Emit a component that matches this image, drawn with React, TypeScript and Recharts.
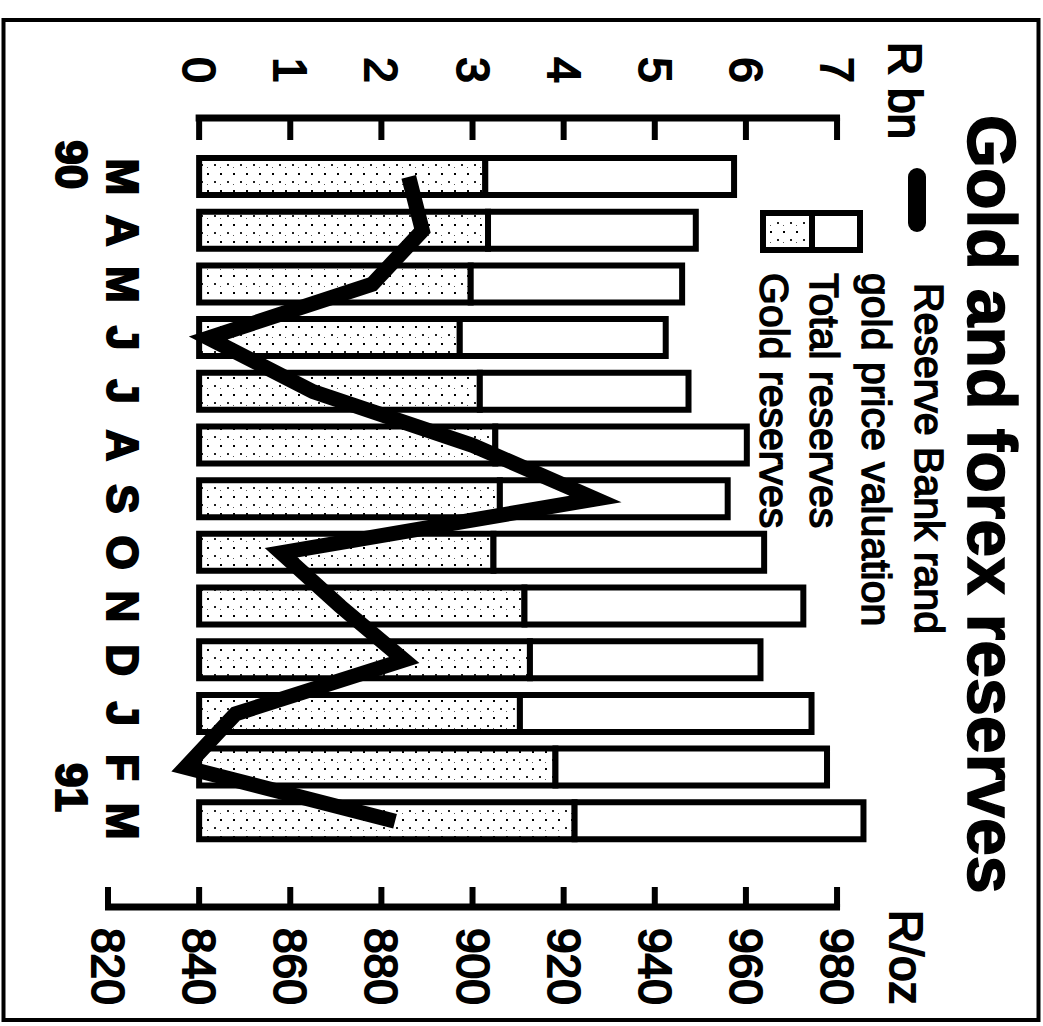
import React from "react";
import { ComposedChart, Bar, Line, XAxis, YAxis, Legend } from "recharts";

// months Mar 1990 .. Mar 1991
const months = ["M", "A", "M", "J", "J", "A", "S", "O", "N", "D", "J", "F", "M"];
const years = ["90", "", "", "", "", "", "", "", "", "", "", "91", ""];
// R bn
const totalReserves = [5.87, 5.45, 5.3, 5.12, 5.37, 6.01, 5.8, 6.2, 6.63, 6.16, 6.72, 6.89, 7.29];
const goldReserves = [3.14, 3.17, 2.98, 2.86, 3.08, 3.25, 3.3, 3.23, 3.57, 3.63, 3.52, 3.91, 4.12];
// R/oz
const goldPrice = [886, 889, 878, 842, 865, 900, 927, 858, 871, 885, 848, 837, 883];

const rbnTicks = [0, 1, 2, 3, 4, 5, 6, 7];
const rozTicks = [820, 840, 860, 880, 900, 920, 940, 960, 980];
const legendLabels = ["Reserve Bank rand", "gold price valuation", "Total reserves", "Gold reserves"];

const data = months.map((m, i) => ({
  month: m,
  year: years[i],
  gold: goldReserves[i],
  rest: +(totalReserves[i] - goldReserves[i]).toFixed(2),
  price: goldPrice[i],
}));

// the chart is laid out upright, then turned a quarter clockwise
const W = 1026;
const H = 1043;
// room above the 7 / 980 ticks so the tallest bar is not clipped
const RBN_DOMAIN = [-1, 7.4];
const ROZ_DOMAIN = [820, 988];
// axes get 1px of room each (a 0px axis is not drawn)
const MARGIN = { top: 169.5, right: 118, bottom: 107, left: 117 };
const PLOT_H = H - MARGIN.top - MARGIN.bottom - 1;
const UNIT = PLOT_H / (RBN_DOMAIN[1] - RBN_DOMAIN[0]);
const FONT = "'Liberation Sans', Arial, Helvetica, sans-serif";

const textStyle = { fontFamily: FONT, fill: "#000", stroke: "#000", strokeWidth: 2 };

const LeftTick = (props: any) => {
  const { x, y, payload } = props;
  return (
    <g>
      <line x1={x} y1={y} x2={x + 22} y2={y} stroke="#000" strokeWidth={6} />
      {payload.value === 0 && (
        <line x1={x} y1={y + 3.5} x2={x} y2={y - 7 * UNIT - 3} stroke="#000" strokeWidth={7} />
      )}
      <text x={x - 48} y={y + 16} textAnchor="middle" fontSize={46} style={textStyle}>
        {payload.value}
      </text>
      {payload.value === 7 && (
        <text x={x - 76} y={y - 52} fontSize={46} style={textStyle}>
          R bn
        </text>
      )}
    </g>
  );
};

const RightTick = (props: any) => {
  const { x, y, payload } = props;
  return (
    <g>
      <line x1={x} y1={y} x2={x - 20} y2={y} stroke="#000" strokeWidth={6} />
      {payload.value === 820 && (
        <line x1={x} y1={y + 3} x2={x} y2={y - 8 * UNIT - 3} stroke="#000" strokeWidth={7} />
      )}
      <text x={x + 21} y={y + 16} fontSize={46} style={textStyle}>
        {payload.value}
      </text>
      {payload.value === 980 && (
        <text x={x + 3} y={y - 53} fontSize={46} style={textStyle}>
          R/oz
        </text>
      )}
    </g>
  );
};

const MonthTick = (props: any) => {
  const { x, y, payload, index } = props;
  const yr = years[index];
  const shift = yr === "90" ? -12 : 20;
  return (
    <g>
      <text x={x} y={y + 1} textAnchor="middle" fontSize={44} fontWeight="bold" style={textStyle}>
        {payload.value}
      </text>
      {yr && (
        <text x={x + shift} y={y + 52} textAnchor="middle" fontSize={44} fontWeight="bold" style={textStyle}>
          {yr}
        </text>
      )}
    </g>
  );
};

const Stipple = ({ id }: { id: string }) => (
  <pattern id={id} width="17" height="13" patternUnits="userSpaceOnUse">
    <rect width="17" height="13" fill="#fff" />
    <rect x="3" y="2" width="2" height="2" fill="#000" />
    <rect x="11" y="8" width="2" height="2" fill="#222" />
    <rect x="14" y="3" width="1" height="1" fill="#555" />
  </pattern>
);

const LegendBox = () => (
  <svg width={560} height={200} style={{ display: "block", overflow: "visible" }}>
    <defs>
      <Stipple id="stippleLegend" />
    </defs>
    <line x1={17} y1={26} x2={63} y2={26} stroke="#000" strokeWidth={18} strokeLinecap="round" />
    <rect x={53} y={83} width={37} height={48} fill="#fff" stroke="#000" strokeWidth={6} />
    <rect x={53} y={131} width={37} height={49} fill="url(#stippleLegend)" stroke="#000" strokeWidth={6} />
    <text x={123} y={28} fontSize={41} style={{ ...textStyle, strokeWidth: 1.5 }}>{legendLabels[0]}</text>
    <text x={113} y={81} fontSize={41} style={{ ...textStyle, strokeWidth: 1.5 }}>{legendLabels[1]}</text>
    <text x={113} y={133} fontSize={41} style={{ ...textStyle, strokeWidth: 1.5 }}>{legendLabels[2]}</text>
    <text x={113} y={183} fontSize={41} style={{ ...textStyle, strokeWidth: 1.5 }}>{legendLabels[3]}</text>
  </svg>
);

export default function App() {
  return (
    <div style={{ position: "fixed", left: 0, top: 0, width: 1043, height: 1026, overflow: "hidden", background: "#fff" }}>
      <div
        style={{
          position: "absolute",
          left: 0,
          top: 0,
          width: W,
          height: H,
          transformOrigin: "0 0",
          transform: "translate(1043px, 0) rotate(90deg)",
        }}
      >
        <ComposedChart width={W} height={H} data={data} margin={MARGIN}>
          <defs>
            <Stipple id="stipple" />
          </defs>
          <XAxis
            dataKey="month"
            height={1}
            interval={0}
            padding={{ left: 32, right: 59 }}
            axisLine={false}
            tickLine={false}
            tickSize={0}
            tickMargin={0}
            tick={<MonthTick />}
          />
          <YAxis
            yAxisId="rbn"
            orientation="left"
            width={1}
            domain={RBN_DOMAIN}
            ticks={rbnTicks}
            interval={0}
            axisLine={false}
            tickLine={false}
            tickSize={0}
            tickMargin={0}
            tick={<LeftTick />}
          />
          <YAxis
            yAxisId="roz"
            orientation="right"
            width={1}
            domain={ROZ_DOMAIN}
            ticks={rozTicks}
            interval={0}
            axisLine={false}
            tickLine={false}
            tickSize={0}
            tickMargin={0}
            tick={<RightTick />}
          />
          <Legend
            layout="horizontal"
            verticalAlign="middle"
            align="center"
            content={() => <LegendBox />}
            wrapperStyle={{ position: "absolute", left: 160, top: 100, width: 560, height: 200, margin: 0, padding: 0, lineHeight: 0 }}
          />
          <Bar
            yAxisId="rbn"
            dataKey="gold"
            name="Gold reserves"
            stackId="r"
            barSize={37}
            fill="url(#stipple)"
            stroke="#000"
            strokeWidth={6}
            isAnimationActive={false}
          />
          <Bar
            yAxisId="rbn"
            dataKey="rest"
            name="Total reserves"
            stackId="r"
            barSize={37}
            fill="#fff"
            stroke="#000"
            strokeWidth={6}
            isAnimationActive={false}
          />
          <Line
            yAxisId="roz"
            dataKey="price"
            name="Reserve Bank rand gold price valuation"
            type="linear"
            stroke="#000"
            strokeWidth={15}
            strokeLinejoin="miter"
            dot={false}
            activeDot={false}
            isAnimationActive={false}
          />
        </ComposedChart>
        <svg width={W} height={H} style={{ position: "absolute", left: 0, top: 0, pointerEvents: "none" }}>
          <rect x={20} y={4.5} width={1000} height={1035} fill="none" stroke="#000" strokeWidth={4} />
          <text x={115} y={75} fontSize={68} fontWeight="bold" style={{ ...textStyle, strokeWidth: 1.5 }}>
            Gold and forex reserves
          </text>
        </svg>
      </div>
    </div>
  );
}
